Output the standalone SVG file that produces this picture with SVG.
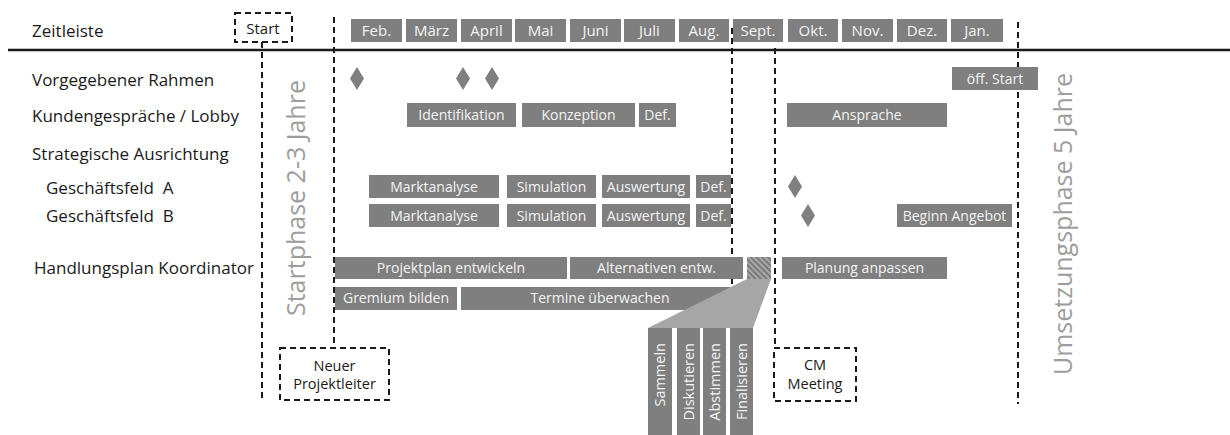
<svg xmlns="http://www.w3.org/2000/svg" width="1230" height="435" viewBox="0 0 1230 435">
  <defs>
    <style>
      .lbl { font-family: "Open Sans", "DejaVu Sans", sans-serif; font-size: 17px; fill: #1a1a1a; white-space: pre; }
      .bar { fill: #7f7f7f; }
      .bt { font-family: "Open Sans", "DejaVu Sans", sans-serif; font-size: 14px; fill: #f4f4f4; text-anchor: middle; }
      .mt { font-family: "Open Sans", "DejaVu Sans", sans-serif; font-size: 15px; fill: #f4f4f4; text-anchor: middle; }
      .dia { fill: #7f7f7f; }
      .dash { fill: none; stroke: #1a1a1a; stroke-width: 2; stroke-dasharray: 6 4; }
      .phase { font-family: "Open Sans", "DejaVu Sans", sans-serif; font-size: 25px; fill: #9d9d9d; }
      .note { font-family: "Open Sans", "DejaVu Sans", sans-serif; font-size: 14.5px; fill: #1a1a1a; text-anchor: middle; }
      .vt { font-family: "Open Sans", "DejaVu Sans", sans-serif; font-size: 14.5px; fill: #f4f4f4; text-anchor: end; }
    </style>
    <pattern id="hatch" width="4" height="4" patternUnits="userSpaceOnUse" patternTransform="rotate(-45)">
      <rect width="4" height="4" fill="#a8a8a8"/>
      <line x1="1" y1="0" x2="1" y2="4" stroke="#6e6e6e" stroke-width="1.6"/>
    </pattern>
  </defs>

  <rect width="1230" height="435" fill="#ffffff"/>

  <!-- timeline axis and phase separators -->
  <g id="connectors">
    <line x1="8" y1="50" x2="1230" y2="50" stroke="#1a1a1a" stroke-width="2.5"/>
    <line class="dash" x1="262" y1="42" x2="262" y2="402"/>
    <line class="dash" x1="334" y1="17" x2="334" y2="347"/>
    <line class="dash" x1="732" y1="28" x2="732" y2="290"/>
    <line class="dash" x1="775" y1="48" x2="775" y2="347"/>
    <line class="dash" x1="1018" y1="22" x2="1018" y2="404"/>
  </g>

  <!-- row labels -->
  <g id="labels">
    <text class="lbl" x="32" y="37">Zeitleiste</text>
    <text class="lbl" x="32" y="86">Vorgegebener Rahmen</text>
    <text class="lbl" x="32" y="122">Kundengespräche / Lobby</text>
    <text class="lbl" x="32" y="160">Strategische Ausrichtung</text>
    <text class="lbl" x="46" y="194">Geschäftsfeld  A</text>
    <text class="lbl" x="46" y="222">Geschäftsfeld  B</text>
    <text class="lbl" x="34" y="274">Handlungsplan Koordinator</text>
  </g>

  <!-- start marker -->
  <g id="start">
    <rect class="dash" x="235" y="13" width="57" height="29"/>
    <text x="263" y="34" style="font-family:'Open Sans','DejaVu Sans',sans-serif;font-size:15px;fill:#1a1a1a;text-anchor:middle">Start</text>
  </g>

  <!-- months -->
  <g id="months">
    <rect class="bar" x="351" y="19" width="51" height="23"/><text class="mt" x="376.5" y="36">Feb.</text>
    <rect class="bar" x="406" y="19" width="51" height="23"/><text class="mt" x="431.5" y="36">März</text>
    <rect class="bar" x="461" y="19" width="51" height="23"/><text class="mt" x="486.5" y="36">April</text>
    <rect class="bar" x="515" y="19" width="51" height="23"/><text class="mt" x="540.5" y="36">Mai</text>
    <rect class="bar" x="570" y="19" width="51" height="23"/><text class="mt" x="595.5" y="36">Juni</text>
    <rect class="bar" x="624" y="19" width="51" height="23"/><text class="mt" x="649.5" y="36">Juli</text>
    <rect class="bar" x="679" y="19" width="50" height="23"/><text class="mt" x="704" y="36">Aug.</text>
    <rect class="bar" x="733" y="19" width="50" height="23"/><text class="mt" x="758" y="36">Sept.</text>
    <rect class="bar" x="788" y="19" width="50" height="23"/><text class="mt" x="813" y="36">Okt.</text>
    <rect class="bar" x="842" y="19" width="51" height="23"/><text class="mt" x="867.5" y="36">Nov.</text>
    <rect class="bar" x="897" y="19" width="50" height="23"/><text class="mt" x="922" y="36">Dez.</text>
    <rect class="bar" x="951" y="19" width="52" height="23"/><text class="mt" x="977" y="36">Jan.</text>
  </g>

  <!-- milestones -->
  <g id="milestones">
    <polygon class="dia" points="357,67 364,78.5 357,90 350,78.5"/>
    <polygon class="dia" points="463,67 470,78.5 463,90 456,78.5"/>
    <polygon class="dia" points="492,67 499,78.5 492,90 485,78.5"/>
    <polygon class="dia" points="795,175 802,186.5 795,198 788,186.5"/>
    <polygon class="dia" points="808,204 815,215.5 808,227 801,215.5"/>
  </g>

  <!-- framework row -->
  <g id="oeff-start">
    <rect class="bar" x="952" y="67" width="86" height="23"/><text class="bt" x="995" y="84">öff. Start</text>
  </g>

  <!-- customer talks row -->
  <g id="kunden">
    <rect class="bar" x="407" y="103" width="109" height="24"/><text class="bt" x="461.5" y="120">Identifikation</text>
    <rect class="bar" x="522" y="103" width="113" height="24"/><text class="bt" x="578.5" y="120">Konzeption</text>
    <rect class="bar" x="639" y="103" width="37" height="24"/><text class="bt" x="657.5" y="120">Def.</text>
    <rect class="bar" x="787" y="103" width="160" height="24"/><text class="bt" x="867" y="120">Ansprache</text>
  </g>

  <!-- business field A -->
  <g id="feld-a">
    <rect class="bar" x="369" y="175" width="130" height="23"/><text class="bt" x="434" y="192">Marktanalyse</text>
    <rect class="bar" x="507" y="175" width="89" height="23"/><text class="bt" x="551.5" y="192">Simulation</text>
    <rect class="bar" x="602" y="175" width="88" height="23"/><text class="bt" x="646" y="192">Auswertung</text>
    <rect class="bar" x="696" y="175" width="35" height="23"/><text class="bt" x="713.5" y="192">Def.</text>
  </g>

  <!-- business field B -->
  <g id="feld-b">
    <rect class="bar" x="369" y="204" width="130" height="23"/><text class="bt" x="434" y="221">Marktanalyse</text>
    <rect class="bar" x="507" y="204" width="89" height="23"/><text class="bt" x="551.5" y="221">Simulation</text>
    <rect class="bar" x="602" y="204" width="88" height="23"/><text class="bt" x="646" y="221">Auswertung</text>
    <rect class="bar" x="696" y="204" width="35" height="23"/><text class="bt" x="713.5" y="221">Def.</text>
    <rect class="bar" x="897" y="204" width="115" height="23"/><text class="bt" x="954.5" y="221">Beginn Angebot</text>
  </g>

  <!-- coordinator plan -->
  <g id="koordinator">
    <rect class="bar" x="335" y="257" width="232" height="22"/><text class="bt" x="451" y="273">Projektplan entwickeln</text>
    <rect class="bar" x="570" y="257" width="173" height="22"/><text class="bt" x="656.5" y="273">Alternativen entw.</text>
    <rect x="747" y="257" width="24" height="22" fill="url(#hatch)"/>
    <rect class="bar" x="782" y="257" width="165" height="22"/><text class="bt" x="864.5" y="273">Planung anpassen</text>
    <rect class="bar" x="335" y="287" width="122" height="23"/><text class="bt" x="396" y="303">Gremium bilden</text>
    <rect class="bar" x="461" y="287" width="279" height="23"/><text class="bt" x="600" y="303">Termine überwachen</text>
  </g>

  <!-- expanded decision steps -->
  <g id="entscheidung">
    <polygon points="747,279 771,279 753,328 648,328" fill="#a6a6a6"/>
    <rect class="bar" x="648" y="328" width="24" height="107"/>
    <text class="vt" transform="translate(665,343) rotate(-90)">Sammeln</text>
    <rect class="bar" x="677" y="328" width="23" height="107"/>
    <text class="vt" transform="translate(693.5,343) rotate(-90)">Diskutieren</text>
    <rect class="bar" x="703" y="328" width="23" height="107"/>
    <text class="vt" transform="translate(719.5,343) rotate(-90)">Abstimmen</text>
    <rect class="bar" x="730" y="328" width="23" height="107"/>
    <text class="vt" transform="translate(746.5,343) rotate(-90)">Finalisieren</text>
  </g>

  <!-- phase captions -->
  <g id="phasen">
    <text class="phase" transform="translate(305,316) rotate(-90)">Startphase 2-3 Jahre</text>
    <text class="phase" transform="translate(1072,375) rotate(-90)">Umsetzungsphase 5 Jahre</text>
  </g>

  <!-- notes -->
  <g id="neuer-projektleiter">
    <rect class="dash" x="280" y="348" width="109" height="52"/>
    <text class="note" x="334.5" y="371">Neuer</text>
    <text class="note" x="334.5" y="389">Projektleiter</text>
  </g>
  <g id="cm-meeting">
    <rect class="dash" x="774" y="348" width="82" height="53"/>
    <text class="note" x="815" y="370">CM</text>
    <text class="note" x="815" y="389">Meeting</text>
  </g>
</svg>
